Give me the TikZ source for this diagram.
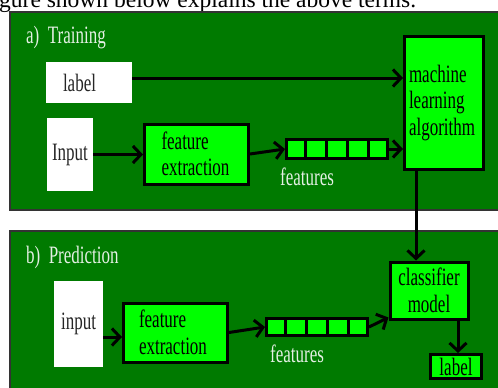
\documentclass[tikz,border=0pt]{standalone}
\usepackage{fontspec}
\setmainfont{Liberation Serif}
\newfontfamily\narrowserif{Liberation Serif}[FakeStretch=0.68]
\usetikzlibrary{arrows.meta,calc}

\definecolor{panelgreen}{RGB}{0,122,0}
\definecolor{boxgreen}{RGB}{0,255,0}
\definecolor{paletext}{RGB}{228,240,228}

\tikzset{
  panel/.style={draw=black!80, line width=2.5pt, fill=panelgreen},
  whitebox/.style={fill=white, inner sep=0pt, text=black!85},
  greenbox/.style={draw=black, line width=3pt, fill=boxgreen, inner sep=0pt},
  heading/.style={text=paletext, anchor=base west, inner sep=0pt},
  flow/.style={draw=black, line width=3pt, -{Straight Barb[length=8pt,width=17pt]}},
}

\begin{document}
\begin{tikzpicture}[x=1pt, y=-1pt, font=\narrowserif\fontsize{25}{26.5}\selectfont]

\clip (0,0) rectangle (498,388);
\fill[white] (0,0) rectangle (498,388);

\node[anchor=base west, inner sep=0pt, font=\rmfamily\fontsize{23.5}{24}\selectfont] (intro) at (-1,8) {gure shown below explains the above terms.};

\draw[panel] (10,12) rectangle (520,210);
\draw[panel] (10,231) rectangle (520,400);

\node[heading] (traintitle) at (26,43) {a)\, Training};
\node[heading] (predtitle) at (26,263) {b)\, Prediction};

% training
\node[whitebox, minimum height=41pt, text width=52pt, inner xsep=17pt, align=left] (lbla) at (89,82.5) {label};
\node[whitebox, minimum width=46pt, minimum height=73pt] (inpa) at (70,154.5) {Input};
\node[greenbox, minimum height=60pt, text width=70pt, inner xsep=17pt, align=left] (fea) at (196.5,154) {feature\\extraction};
\node[greenbox, minimum width=101pt, minimum height=19pt] (stra) at (337,149) {};
\node[heading] (feata) at (280,185) {features};
\node[greenbox, minimum height=133pt, text width=70pt, inner xsep=4.5pt, align=left] (mla) at (444,103) {machine\\learning\\algorithm};

% prediction
\node[whitebox, minimum width=49pt, minimum height=86pt] (inpb) at (78.5,324) {input};
\node[greenbox, minimum height=59pt, text width=73pt, inner xsep=15.5pt, align=left] (feb) at (175.5,332.5) {feature\\extraction};
\node[greenbox, minimum width=101pt, minimum height=17pt] (strb) at (317,327) {};
\node[heading] (featb) at (270,362) {features};
\node[greenbox, minimum width=78pt, minimum height=57pt, align=center] (clsb) at (429,290.5) {classifier\\model};
\node[greenbox, minimum width=51pt, minimum height=24pt, inner sep=0pt] (lblb) at (456,366.5) {label};

\foreach \k in {1,...,4} {
  \draw[line width=3pt] ($(stra.north west)!\k/5!(stra.north east)$) -- ($(stra.south west)!\k/5!(stra.south east)$);
  \draw[line width=3pt] ($(strb.north west)!\k/5!(strb.north east)$) -- ($(strb.south west)!\k/5!(strb.south east)$);
}

\draw[flow] ([yshift=4.5pt]lbla.east) -- ([yshift=4.5pt]lbla.east -| mla.west);
\draw[flow] (inpa.east) -- (inpa.east -| fea.west);
\draw[flow] (fea.east) -- (stra.west);
\draw[flow] (stra.east) -- (stra.east -| mla.west);
\draw[flow] ([xshift=-28pt]mla.south) -- ([xshift=-28pt]mla.south |- clsb.north);

\draw[flow] ([yshift=-13pt]inpb.east) -- ([yshift=-13pt]inpb.east -| feb.west);
\draw[flow] (feb.east) -- (strb.west);
\draw[flow] (strb.east) -- ([yshift=3pt]clsb.south west);
\draw[flow] ([xshift=29pt]clsb.south) -- ([xshift=29pt]clsb.south |- lblb.north);

\end{tikzpicture}
\end{document}
